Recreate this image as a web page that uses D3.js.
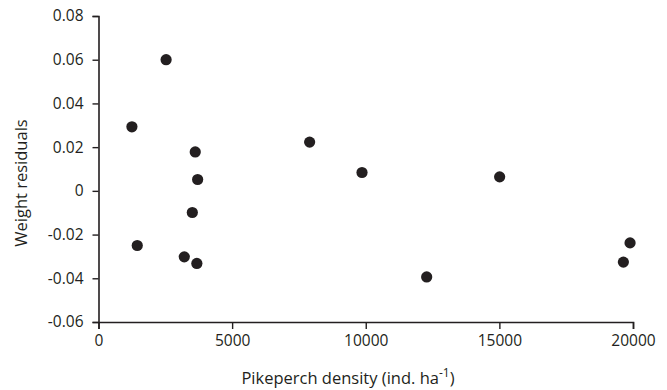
<!DOCTYPE html>
<html>
<head>
<meta charset="utf-8">
<script src="https://cdn.jsdelivr.net/npm/d3@7"></script>
<style>
  body { margin: 0; background: #fff; }
  svg { display: block; font-family: "Open Sans", sans-serif; }
</style>
</head>
<body>
<svg id="chart"></svg>
<script>
// pikeperch density (ind. ha-1) and weight residuals
const density = [1250, 2530, 1450, 3210, 3510, 3620, 3680, 3710, 7900, 9860, 12280, 15010, 19640, 19890];
const residual = [0.0293, 0.0600, -0.0250, -0.0302, -0.0099, 0.0178, -0.0332, 0.0052, 0.0223, 0.0084, -0.0394, 0.0064, -0.0326, -0.0238];
const xTicks = [0, 5000, 10000, 15000, 20000];
const yTicks = [-0.06, -0.04, -0.02, 0, 0.02, 0.04, 0.06, 0.08];

const width = 667, height = 390;
const margin = { top: 16, right: 34, bottom: 68, left: 98.5 };
const innerWidth = width - margin.left - margin.right;
const innerHeight = height - margin.top - margin.bottom;
const ink = '#231f20';

const svg = d3.select('#chart')
  .attr('width', width)
  .attr('height', height);

const x = d3.scaleLinear().domain([0, 20000]).range([0, innerWidth]);
const y = d3.scaleLinear().domain([-0.06, 0.08]).range([innerHeight, 0]);

const g = svg.append('g')
  .attr('transform', `translate(${margin.left},${margin.top})`);

const yFmt = d => d === 0 ? '0' : d3.format('.2f')(d).replace('−', '-');

// x axis
const gx = g.append('g')
  .attr('transform', `translate(0,${innerHeight})`)
  .call(d3.axisBottom(x).tickValues(xTicks).tickFormat(d3.format('d')).tickSize(7).tickPadding(6));

// y axis
const gy = g.append('g')
  .call(d3.axisLeft(y).tickValues(yTicks).tickFormat(yFmt).tickSize(6).tickPadding(9));

[gx, gy].forEach(a => {
  a.attr('font-size', null).attr('font-family', null);
  a.select('.domain').attr('stroke', ink).attr('stroke-width', 1.6);
  a.selectAll('.tick line').attr('stroke', ink).attr('stroke-width', 1.4);
  a.selectAll('.tick text').attr('fill', ink).style('font-size', '15.5px');
});

// dots
g.selectAll('circle')
  .data(density.map((d, i) => ({ x: d, y: residual[i] })))
  .join('circle')
  .attr('cx', d => x(d.x))
  .attr('cy', d => y(d.y))
  .attr('r', 5.6)
  .attr('fill', ink);

// axis titles
svg.append('text')
  .attr('transform', `translate(27,${margin.top + innerHeight / 2 + 14}) rotate(-90)`)
  .attr('text-anchor', 'middle')
  .attr('fill', ink)
  .style('font-size', '16.5px')
  .text('Weight residuals');

const xt = svg.append('text')
  .attr('x', 348)
  .attr('y', 384)
  .attr('text-anchor', 'middle')
  .attr('fill', ink)
  .style('font-size', '16.5px');
xt.append('tspan').text('Pikeperch density (ind. ha');
xt.append('tspan').attr('dy', -7).style('font-size', '12px').text('-1');
xt.append('tspan').attr('dy', 7).text(')');
</script>
</body>
</html>
